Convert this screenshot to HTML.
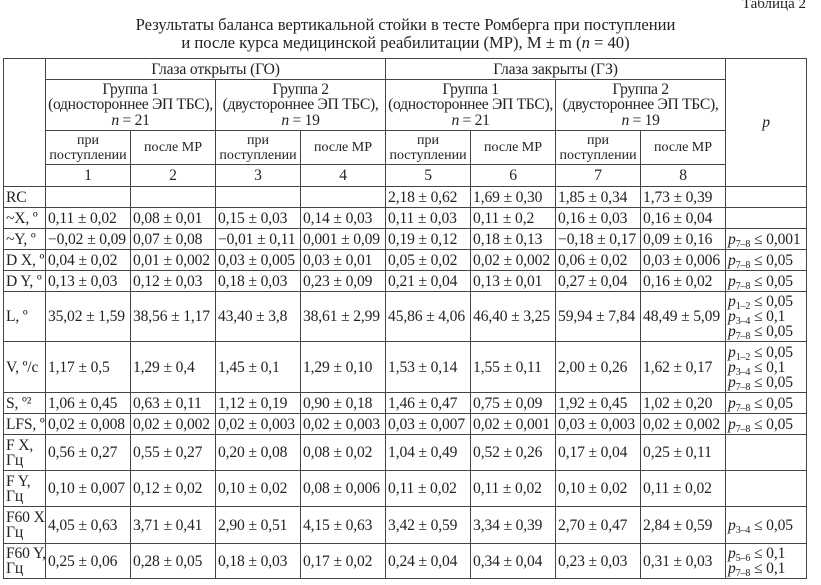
<!DOCTYPE html>
<html><head><meta charset="utf-8"><style>
body{margin:0;background:#fff;width:821px;height:585px;overflow:hidden;font-family:"Liberation Serif",serif;color:#222;position:relative}
.t2{position:absolute;right:15px;top:-4px;font-size:15px}
.title{position:absolute;left:0;width:811px;top:16px;text-align:center;font-size:16.6px;line-height:18px}
table{position:absolute;left:3px;top:58px;width:803px;border-collapse:collapse;table-layout:fixed;font-size:15.6px;letter-spacing:-0.15px}
td{border:1.5px solid #444;padding:0 0 0 2px;white-space:nowrap;overflow:hidden;line-height:15px;vertical-align:middle}
.c{text-align:center;padding:0}
td.s{font-size:14px;line-height:15px;letter-spacing:0}
td.h{font-size:15.6px;line-height:15.5px;letter-spacing:-0.3px}
td.p{font-size:15.6px;line-height:15px}
sub{font-size:10px;vertical-align:-3px;line-height:0}
i{font-style:italic}
</style></head><body>
<div class="t2">Таблица 2</div>
<div class="title">Результаты баланса вертикальной стойки в тесте Ромберга при поступлении<br>и после курса медицинской реабилитации (МР), M ± m (<i>n</i> = 40)</div>
<table>
<colgroup><col style="width:42px"><col style="width:85px"><col style="width:85px"><col style="width:85px"><col style="width:85px"><col style="width:85px"><col style="width:85px"><col style="width:85px"><col style="width:85px"><col style="width:81px"></colgroup>
<tr style="height:21px"><td rowspan="4"></td><td colspan="4" class="c">Глаза открыты (ГО)</td><td colspan="4" class="c">Глаза закрыты (ГЗ)</td><td rowspan="4" class="c"><i>p</i></td></tr>
<tr style="height:51px"><td colspan="2" class="c h">Группа 1<br>(одностороннее ЭП ТБС),<br><i>n</i> = 21</td><td colspan="2" class="c h">Группа 2<br>(двустороннее ЭП ТБС),<br><i>n</i> = 19</td><td colspan="2" class="c h">Группа 1<br>(одностороннее ЭП ТБС),<br><i>n</i> = 21</td><td colspan="2" class="c h">Группа 2<br>(двустороннее ЭП ТБС),<br><i>n</i> = 19</td></tr>
<tr style="height:34px"><td class="c s">при<br>поступлении</td><td class="c s">после МР</td><td class="c s">при<br>поступлении</td><td class="c s">после МР</td><td class="c s">при<br>поступлении</td><td class="c s">после МР</td><td class="c s">при<br>поступлении</td><td class="c s">после МР</td></tr>
<tr style="height:22px"><td class="c">1</td><td class="c">2</td><td class="c">3</td><td class="c">4</td><td class="c">5</td><td class="c">6</td><td class="c">7</td><td class="c">8</td></tr>
<tr style="height:21px"><td>RC</td><td></td><td></td><td></td><td></td><td>2,18 ± 0,62</td><td>1,69 ± 0,30</td><td>1,85 ± 0,34</td><td>1,73 ± 0,39</td><td></td></tr>
<tr style="height:21px"><td>~X, º</td><td>0,11 ± 0,02</td><td>0,08 ± 0,01</td><td>0,15 ± 0,03</td><td>0,14 ± 0,03</td><td>0,11 ± 0,03</td><td>0,11 ± 0,2</td><td>0,16 ± 0,03</td><td>0,16 ± 0,04</td><td></td></tr>
<tr style="height:21px"><td>~Y, º</td><td>−0,02 ± 0,09</td><td>0,07 ± 0,08</td><td>−0,01 ± 0,11</td><td>0,001 ± 0,09</td><td>0,19 ± 0,12</td><td>0,18 ± 0,13</td><td>−0,18 ± 0,17</td><td>0,09 ± 0,16</td><td class="p"><i>p</i><sub>7–8</sub> ≤ 0,001</td></tr>
<tr style="height:21px"><td>D X, º</td><td>0,04 ± 0,02</td><td>0,01 ± 0,002</td><td>0,03 ± 0,005</td><td>0,03 ± 0,01</td><td>0,05 ± 0,02</td><td>0,02 ± 0,002</td><td>0,06 ± 0,02</td><td>0,03 ± 0,006</td><td class="p"><i>p</i><sub>7–8</sub> ≤ 0,05</td></tr>
<tr style="height:21px"><td>D Y, º</td><td>0,13 ± 0,03</td><td>0,12 ± 0,03</td><td>0,18 ± 0,03</td><td>0,23 ± 0,09</td><td>0,21 ± 0,04</td><td>0,13 ± 0,01</td><td>0,27 ± 0,04</td><td>0,16 ± 0,02</td><td class="p"><i>p</i><sub>7–8</sub> ≤ 0,05</td></tr>
<tr style="height:50px"><td>L, º</td><td>35,02 ± 1,59</td><td>38,56 ± 1,17</td><td>43,40 ± 3,8</td><td>38,61 ± 2,99</td><td>45,86 ± 4,06</td><td>46,40 ± 3,25</td><td>59,94 ± 7,84</td><td>48,49 ± 5,09</td><td class="p"><i>p</i><sub>1–2</sub> ≤ 0,05<br><i>p</i><sub>3–4</sub> ≤ 0,1<br><i>p</i><sub>7–8</sub> ≤ 0,05</td></tr>
<tr style="height:51px"><td>V, º/с</td><td>1,17 ± 0,5</td><td>1,29 ± 0,4</td><td>1,45 ± 0,1</td><td>1,29 ± 0,10</td><td>1,53 ± 0,14</td><td>1,55 ± 0,11</td><td>2,00 ± 0,26</td><td>1,62 ± 0,17</td><td class="p"><i>p</i><sub>1–2</sub> ≤ 0,05<br><i>p</i><sub>3–4</sub> ≤ 0,1<br><i>p</i><sub>7–8</sub> ≤ 0,05</td></tr>
<tr style="height:21px"><td>S, º²</td><td>1,06 ± 0,45</td><td>0,63 ± 0,11</td><td>1,12 ± 0,19</td><td>0,90 ± 0,18</td><td>1,46 ± 0,47</td><td>0,75 ± 0,09</td><td>1,92 ± 0,45</td><td>1,02 ± 0,20</td><td class="p"><i>p</i><sub>7–8</sub> ≤ 0,05</td></tr>
<tr style="height:21px"><td>LFS, º</td><td>0,02 ± 0,008</td><td>0,02 ± 0,002</td><td>0,02 ± 0,003</td><td>0,02 ± 0,003</td><td>0,03 ± 0,007</td><td>0,02 ± 0,001</td><td>0,03 ± 0,003</td><td>0,02 ± 0,002</td><td class="p"><i>p</i><sub>7–8</sub> ≤ 0,05</td></tr>
<tr style="height:36px"><td>F X,<br>Гц</td><td>0,56 ± 0,27</td><td>0,55 ± 0,27</td><td>0,20 ± 0,08</td><td>0,08 ± 0,02</td><td>1,04 ± 0,49</td><td>0,52 ± 0,26</td><td>0,17 ± 0,04</td><td>0,25 ± 0,11</td><td></td></tr>
<tr style="height:36px"><td>F Y,<br>Гц</td><td>0,10 ± 0,007</td><td>0,12 ± 0,02</td><td>0,10 ± 0,02</td><td>0,08 ± 0,006</td><td>0,11 ± 0,02</td><td>0,11 ± 0,02</td><td>0,10 ± 0,02</td><td>0,11 ± 0,02</td><td></td></tr>
<tr style="height:37px"><td>F60 X,<br>Гц</td><td>4,05 ± 0,63</td><td>3,71 ± 0,41</td><td>2,90 ± 0,51</td><td>4,15 ± 0,63</td><td>3,42 ± 0,59</td><td>3,34 ± 0,39</td><td>2,70 ± 0,47</td><td>2,84 ± 0,59</td><td class="p"><i>p</i><sub>3–4</sub> ≤ 0,05</td></tr>
<tr style="height:35px"><td>F60 Y,<br>Гц</td><td>0,25 ± 0,06</td><td>0,28 ± 0,05</td><td>0,18 ± 0,03</td><td>0,17 ± 0,02</td><td>0,24 ± 0,04</td><td>0,34 ± 0,04</td><td>0,23 ± 0,03</td><td>0,31 ± 0,03</td><td class="p"><i>p</i><sub>5–6</sub> ≤ 0,1<br><i>p</i><sub>7–8</sub> ≤ 0,1</td></tr>
</table>
</body></html>
